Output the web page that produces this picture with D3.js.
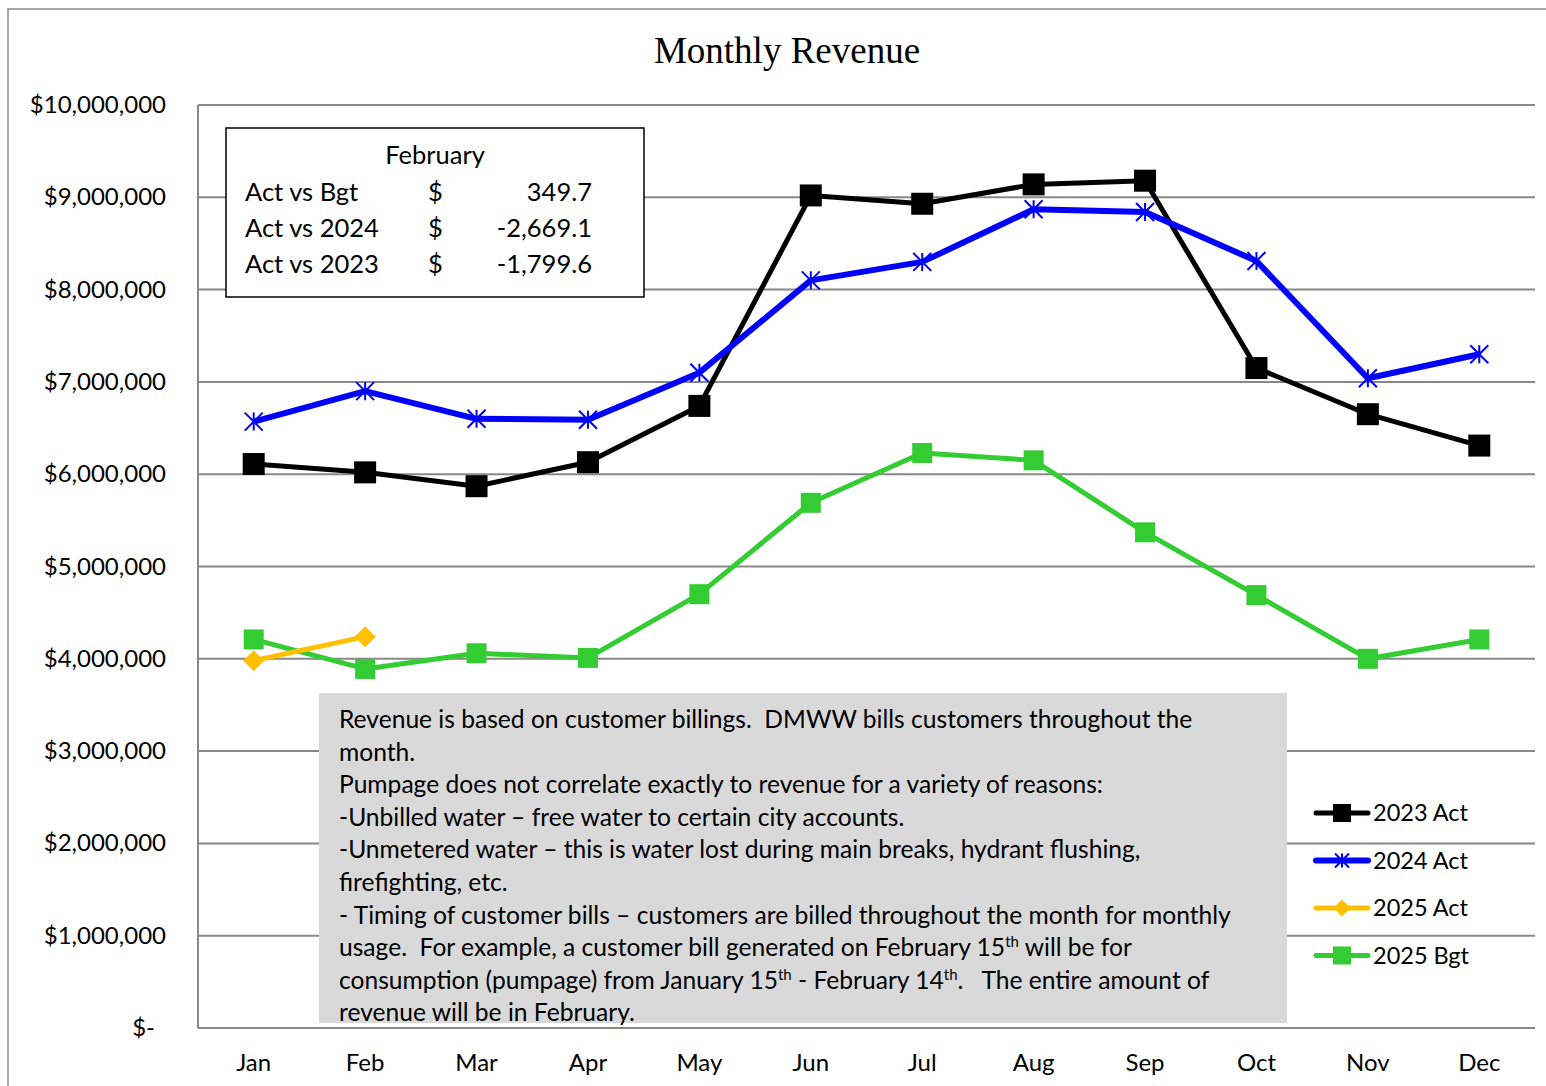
<!DOCTYPE html>
<html>
<head>
<meta charset="utf-8">
<script src="https://cdn.jsdelivr.net/npm/d3@7"></script>
<style>
  body { margin: 0; background: #fff; }
  svg { display: block; }
  text { font-family: Lato, "Open Sans", sans-serif; fill: #000; white-space: pre; }
</style>
</head>
<body>
<div id="graph"></div>
<script>
var months = ["Jan", "Feb", "Mar", "Apr", "May", "Jun", "Jul", "Aug", "Sep", "Oct", "Nov", "Dec"];
var act2023 = [6110000, 6020000, 5870000, 6130000, 6740000, 9020000, 8930000, 9140000, 9180000, 7150000, 6650000, 6310000];
var act2024 = [6570000, 6900000, 6600000, 6590000, 7100000, 8100000, 8300000, 8870000, 8840000, 8310000, 7040000, 7300000];
var act2025 = [3980000, 4240000];
var bgt2025 = [4210000, 3890000, 4060000, 4010000, 4700000, 5690000, 6230000, 6150000, 5370000, 4690000, 4000000, 4210000];
var yTicks = [0, 1000000, 2000000, 3000000, 4000000, 5000000, 6000000, 7000000, 8000000, 9000000, 10000000];
var seriesNames = ["2023 Act", "2024 Act", "2025 Act", "2025 Bgt"];
var boxTitle = "February";
var boxRows = [["Act vs Bgt", "$", "349.7"], ["Act vs 2024", "$", "-2,669.1"], ["Act vs 2023", "$", "-1,799.6"]];
var noteLines = [
  "Revenue is based on customer billings.  DMWW bills customers throughout the",
  "month.",
  "Pumpage does not correlate exactly to revenue for a variety of reasons:",
  "-Unbilled water \u2013 free water to certain city accounts.",
  "-Unmetered water \u2013 this is water lost during main breaks, hydrant flushing,",
  "firefighting, etc.",
  "- Timing of customer bills \u2013 customers are billed throughout the month for monthly",
  "usage.  For example, a customer bill generated on February 15^th will be for",
  "consumption (pumpage) from January 15^th - February 14^th.   The entire amount of",
  "revenue will be in February."
];

var W = 1546, H = 1086;
var pLeft = 198, pRight = 1535, pTop = 105, pBottom = 1028;

var svg = d3.select("#graph").append("svg").attr("width", W).attr("height", H);

// outer chart border
svg.append("rect").attr("x", 8).attr("y", 9).attr("width", W).attr("height", H)
  .attr("fill", "none").attr("stroke", "#8c8c8c").attr("stroke-width", 1.5);

svg.append("text").attr("x", 787).attr("y", 63).attr("text-anchor", "middle")
  .style("font-family", "'Liberation Serif', 'Times New Roman', serif")
  .style("font-size", "37px").text("Monthly Revenue");

var x = d3.scalePoint().domain(months).range([pLeft, pRight]).padding(0.5);
var y = d3.scaleLinear().domain([0, 10000000]).range([pBottom, pTop]);

// gridlines
svg.append("g").selectAll("line").data(yTicks).enter().append("line")
  .attr("x1", pLeft).attr("x2", pRight)
  .attr("y1", function (d) { return y(d); }).attr("y2", function (d) { return y(d); })
  .attr("stroke", "#888").attr("stroke-width", 2);
svg.append("line").attr("x1", pLeft).attr("x2", pLeft).attr("y1", pTop).attr("y2", pBottom)
  .attr("stroke", "#888").attr("stroke-width", 2);

// y labels
svg.append("g").selectAll("text").data(yTicks).enter().append("text")
  .attr("x", function (d) { return d === 0 ? 155 : 166; })
  .attr("y", function (d) { return y(d) + 8; })
  .attr("text-anchor", "end").style("font-size", "24px")
  .text(function (d) { return d === 0 ? "$-" : "$" + d3.format(",")(d); });

// x labels
svg.append("g").selectAll("text").data(months).enter().append("text")
  .attr("x", function (d) { return x(d); }).attr("y", 1071)
  .attr("text-anchor", "middle").style("font-size", "24px")
  .text(function (d) { return d; });

// note box
var note = svg.append("g");
note.append("rect").attr("x", 319).attr("y", 693).attr("width", 968).attr("height", 330).attr("fill", "#d9d9d9");
noteLines.forEach(function (line, i) {
  var t = note.append("text").attr("x", 339).attr("y", 728 + i * 32.6).style("font-size", "24.6px");
  var shift = 0;
  line.split(/(\^th)/).forEach(function (part) {
    if (part === "^th") {
      t.append("tspan").attr("dy", -9).style("font-size", "15px").text("th");
      shift = 9;
    } else if (part.length) {
      t.append("tspan").attr("dy", shift).text(part);
      shift = 0;
    }
  });
});

// series
var series = [
  { name: seriesNames[0], values: act2023, color: "#000000", width: 5, marker: "square", size: 22 },
  { name: seriesNames[1], values: act2024, color: "#0000ff", width: 6, marker: "star", size: 18 },
  { name: seriesNames[2], values: act2025, color: "#ffc000", width: 5, marker: "diamond", size: 21 },
  { name: seriesNames[3], values: bgt2025, color: "#33cc33", width: 5, marker: "square", size: 20 }
];
var drawOrder = [series[3], series[2], series[0], series[1]];

var line = d3.line()
  .x(function (d, i) { return x(months[i]); })
  .y(function (d) { return y(d); });

function marker(g, s, cx, cy) {
  var h = s.size / 2;
  if (s.marker === "square") {
    g.append("rect").attr("x", cx - h).attr("y", cy - h).attr("width", s.size).attr("height", s.size).attr("fill", s.color);
  } else if (s.marker === "diamond") {
    g.append("path").attr("d", "M" + cx + "," + (cy - h) + "L" + (cx + h) + "," + cy + "L" + cx + "," + (cy + h) + "L" + (cx - h) + "," + cy + "Z")
      .attr("fill", s.color);
  } else {
    var p = "M" + (cx - h) + "," + (cy - h) + "L" + (cx + h) + "," + (cy + h) +
      "M" + (cx - h) + "," + (cy + h) + "L" + (cx + h) + "," + (cy - h) +
      "M" + cx + "," + (cy - h) + "L" + cx + "," + (cy + h);
    g.append("path").attr("d", p).attr("stroke", s.color).attr("stroke-width", 2).attr("fill", "none");
  }
}

drawOrder.forEach(function (s) {
  var g = svg.append("g");
  g.append("path").datum(s.values).attr("d", line)
    .attr("fill", "none").attr("stroke", s.color).attr("stroke-width", s.width)
    .attr("stroke-linejoin", "round");
  s.values.forEach(function (v, i) {
    marker(g, s, x(months[i]), y(v));
  });
});

// legend
var lg = svg.append("g");
series.forEach(function (s, i) {
  var ly = 813 + i * 47.5;
  lg.append("line").attr("x1", 1316).attr("x2", 1368).attr("y1", ly).attr("y2", ly)
    .attr("stroke", s.color).attr("stroke-width", s.width).attr("stroke-linecap", "round");
  var ms = { color: s.color, marker: s.marker, size: s.marker === "square" ? 18 : s.marker === "diamond" ? 17 : 14 };
  marker(lg, ms, 1342, ly);
  lg.append("text").attr("x", 1373).attr("y", ly + 8).style("font-size", "23.5px").text(s.name);
});

// february box
var bx = svg.append("g");
bx.append("rect").attr("x", 226).attr("y", 128).attr("width", 418).attr("height", 169)
  .attr("fill", "#fff").attr("stroke", "#000").attr("stroke-width", 1.5);
bx.append("text").attr("x", 435).attr("y", 164).attr("text-anchor", "middle").style("font-size", "25.5px").text(boxTitle);
boxRows.forEach(function (r, i) {
  var ry = 201 + i * 36;
  bx.append("text").attr("x", 245).attr("y", ry).style("font-size", "25.5px").text(r[0]);
  bx.append("text").attr("x", 428).attr("y", ry).style("font-size", "25.5px").text(r[1]);
  bx.append("text").attr("x", 592).attr("y", ry).attr("text-anchor", "end").style("font-size", "25.5px").text(r[2]);
});
</script>
</body>
</html>
